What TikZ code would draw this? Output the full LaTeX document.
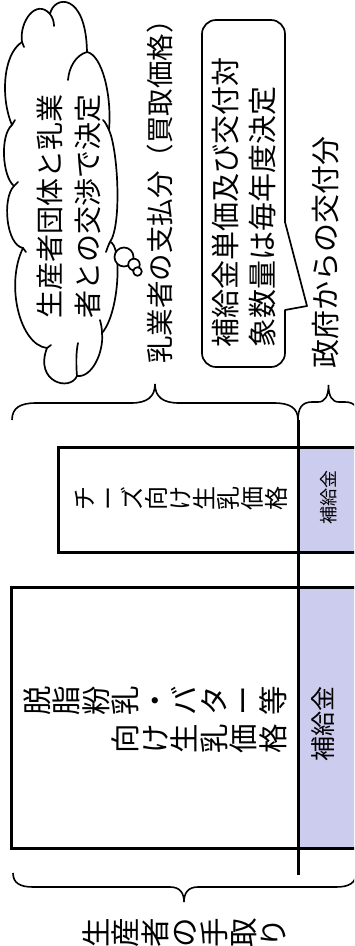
\documentclass[tikz,border=0pt]{standalone}
\usepackage{fontspec}
\setmainfont{Noto Sans CJK JP}
\usetikzlibrary{calc}
\definecolor{lav}{RGB}{204,204,238}
\tikzset{
  outline/.style={line width=1.7pt, line join=round, line cap=round},
  boxline/.style={line width=3pt},
  bracestyle/.style={line width=1.6pt},
  rtext/.style={rotate=90, inner sep=0pt},
}
% a row of glyphs, each turned 90 degrees: name, left x, centre y, pitch, glyphs
\newcommand\glyphrow[5]{%
  \foreach \c [count=\i from 0] in {#5}
    \node[rtext, anchor=base, font=\fontsize{#4pt}{#4pt}\selectfont] (#1\i) at ({#2+(\i+0.88)*#4}, #3) {\c};}
\begin{document}
\begin{tikzpicture}[x=1pt, y=-1pt]
\useasboundingbox (0,0) rectangle (354,946);
\clip (0,0) rectangle (354,946);

% cloud
\draw[outline, fill=white] (22,42)
 .. controls (19,22) and (36,-2) .. (50,14)
 .. controls (54,-5) and (86,-8) .. (87,52)
 .. controls (102,55) and (112,95) .. (109,130)
 .. controls (118,150) and (122,225) .. (110,242)
 .. controls (122,244) and (120,312) .. (102,333)
 .. controls (104,352) and (92,378) .. (77,376)
 .. controls (70,392) and (34,382) .. (47,348)
 .. controls (20,345) and (5,285) .. (23,248)
 .. controls (6,245) and (2,198) .. (14,186)
 .. controls (2,176) and (0,135) .. (12,125)
 .. controls (1,100) and (2,55) .. (22,42) -- cycle;
\draw[outline] (50,14) .. controls (53,18) and (54,22) .. (54,26);
\draw[outline] (87,52) .. controls (76,55) and (69,67) .. (68,80);
\draw[outline] (109,130) .. controls (107,126) and (106,123) .. (103,120);
\draw[outline] (110,242) .. controls (108,246) and (107,249) .. (106,252);
\draw[outline] (102,333) .. controls (102,328) and (101,324) .. (100,320);
\draw[outline] (77,376) .. controls (76,365) and (76,352) .. (78,343);
\draw[outline] (47,348) -- (51,345);
\draw[outline] (23,248) -- (26,252);
\draw[outline] (14,186) -- (18,182);
\draw[outline] (12,125) -- (15,120);
\draw[outline] (22,42) -- (24,47);
% thought bubbles
\draw[outline, fill=white] (124,257) circle[radius=9.5pt];
\draw[outline, fill=white] (134,264.5) circle[radius=5.75pt];
\draw[outline, fill=white] (137.5,271.5) circle[radius=4.3pt];

\node[rtext, anchor=base, font=\fontsize{28pt}{28pt}\selectfont] (cl1) at (60.6,206.5) {生産者団体と乳業};
\node[rtext, anchor=base, font=\fontsize{28pt}{28pt}\selectfont] (cl2) at (98.6,206.5) {者との交渉で決定};

% milk company label
\node[rtext, anchor=base, font=\fontsize{27.5pt}{27.5pt}\selectfont] (pay) at (170,185) {乳業者の支払分（買取価格）};

% callout
\draw[outline, rounded corners=14pt] (202,20) rectangle (285,367);
\fill[white] (283.5,223) rectangle (287.5,309.5);
\draw[outline] (285,222) -- (307,306) -- (285,310);
\node[rtext, anchor=base west, font=\fontsize{29pt}{29pt}\selectfont] (co1) at (236,348) {補給金単価及び交付対};
\node[rtext, anchor=base west, font=\fontsize{29pt}{29pt}\selectfont] (co2) at (273.5,348) {象数量は毎年度決定};

% government label
\node[rtext, anchor=base, font=\fontsize{29pt}{29pt}\selectfont] (gov) at (336,252.5) {政府からの交付分};

% braces
\draw[bracestyle] (12,420) .. controls (12,408) and (20,403) .. (36,403) -- (131,403)
  .. controls (147,403) and (155,397) .. (155,384)
  .. controls (155,397) and (163,403) .. (179,403) -- (274,403)
  .. controls (290,403) and (298,408) .. (298,420);
\draw[bracestyle] (298,420) .. controls (298,408) and (302,402) .. (312,402) -- (318,402)
  .. controls (325,402) and (328.5,396) .. (328.5,385)
  .. controls (328.5,396) and (332,402) .. (339,402) -- (345,402)
  .. controls (355,402) and (359,408) .. (359,420);
\draw[bracestyle] (13,873) .. controls (13,883) and (20,887) .. (33,887) -- (170,887)
  .. controls (180,887) and (184,893) .. (184,902)
  .. controls (184,893) and (188,887) .. (198,887) -- (336,887)
  .. controls (349,887) and (356,883) .. (356,873);

% boxes
\draw[boxline, fill=white] (58,447) rectangle (298,552);
\draw[boxline, fill=lav] (298,447) rectangle (356,552);
\draw[boxline, fill=white] (11,587.5) rectangle (298,848.5);
\draw[boxline, fill=lav] (298,587.5) rectangle (356,848.5);
\draw[boxline] (298,420) -- (298,875);

\glyphrow{cheese}{72}{498.5}{24}{チ,ー,ズ,向,け,生,乳,価,格}
\node[rtext, anchor=base, font=\fontsize{18pt}{18pt}\selectfont] (sub1) at (335,497) {補給金};
\glyphrow{butterA}{22.5}{701}{29.5}{脱,脂,粉,乳,・,バ,タ,ー,等}
\glyphrow{butterB}{111}{738.5}{29.5}{向,け,生,乳,価,格}
\node[rtext, anchor=base, font=\fontsize{25pt}{25pt}\selectfont] (sub2) at (332.5,723.5) {補給金};

\glyphrow{take}{81.25}{933}{29.5}{生,産,者,の,手,取,り}
\end{tikzpicture}
\end{document}
